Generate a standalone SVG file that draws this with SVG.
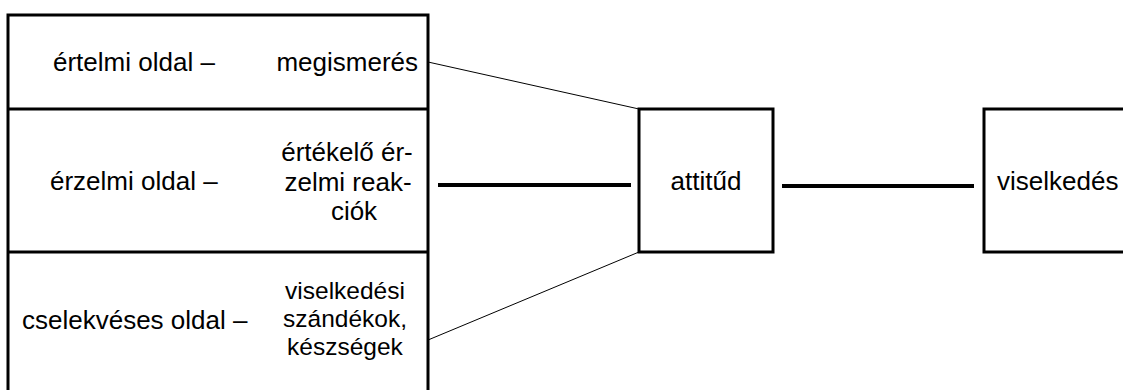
<svg xmlns="http://www.w3.org/2000/svg" width="1123" height="390" viewBox="0 0 1123 390">
<style>
.box{fill:none;stroke:#000;stroke-width:3}
.thick{stroke:#000;stroke-width:4;fill:none}
.thin{stroke:#000;stroke-width:1;fill:none}
text{font-family:"Liberation Sans",Arial,sans-serif;font-size:26px;fill:#000}
.m{text-anchor:middle}
.e{text-anchor:end}
.s{font-size:24.5px}
</style>
<rect width="1123" height="390" fill="#fff"/>
<g id="components">
<path class="box" d="M8,392 V15 H428 V392 M8,109 H428 M8,252 H428"/>
<g id="ertelmi">
<text x="53" y="71">értelmi oldal –</text>
<text class="e" x="418" y="71">megismerés</text>
</g>
<g id="erzelmi">
<text x="50" y="190">érzelmi oldal –</text>
<text class="m" x="347" y="161">értékelő ér-</text>
<text class="m" x="348" y="191">zelmi reak-</text>
<text class="m" x="354" y="220">ciók</text>
</g>
<g id="cselekveses">
<text x="22" y="329">cselekvéses oldal –</text>
<text class="m s" x="345" y="299">viselkedési</text>
<text class="m s" x="345" y="327">szándékok,</text>
<text class="m s" x="345" y="355">készségek</text>
</g>
</g>
<g id="attitud">
<rect class="box" x="639" y="109" width="134" height="143"/>
<text class="m" x="706" y="190">attitűd</text>
</g>
<g id="viselkedes">
<rect class="box" x="984" y="109" width="150" height="143"/>
<text x="997" y="190">viselkedés</text>
</g>
<g id="connectors">
<line class="thin" x1="428" y1="62" x2="639" y2="109"/>
<line class="thin" x1="428" y1="340" x2="639" y2="252"/>
<line class="thick" x1="438" y1="185" x2="631" y2="185"/>
<line class="thick" x1="782" y1="186" x2="974" y2="186"/>
</g>
</svg>
